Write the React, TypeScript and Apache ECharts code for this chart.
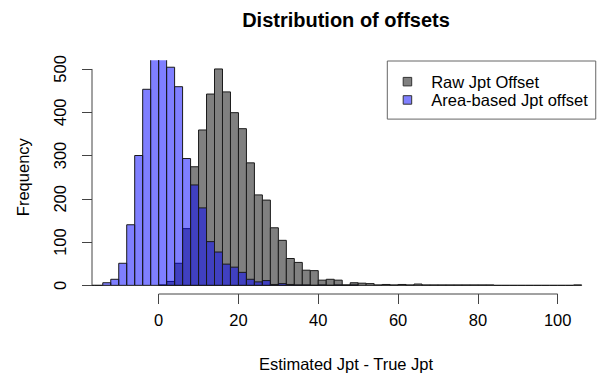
import React, { useEffect, useRef } from "react";
import * as echarts from "echarts";

// ---- data (bin width 2) ----
const binWidth = 2;
const rawStart = 0;
const rawCounts = [
  1, 9, 51, 131, 274, 359, 442, 500, 447, 399, 362, 283, 209, 197, 133, 104,
  62, 53, 35, 34, 12, 14, 12, 1, 6, 5, 4, 1, 2, 1, 2, 1, 3, 1, 1, 1, 1, 1, 1,
  1, 1, 1, 0, 0, 0, 0, 0, 0, 0, 0, 0, 0, 1,
];
const areaStart = -18;
const areaCounts = [
  0, 0, 6, 14, 51, 140, 300, 453, 545, 565, 504, 459, 293, 232, 179, 101, 77,
  49, 42, 30, 14, 8, 11, 2, 4, 2, 1, 1, 0, 1, 0, 1, 0, 1,
];
const xTicks = [0, 20, 40, 60, 80, 100];
const yTicks = [0, 100, 200, 300, 400, 500];
const seriesNames = ["Raw Jpt Offset", "Area-based Jpt offset"];
const titleText = "Distribution of offsets";
const xLabel = "Estimated Jpt - True Jpt";
const yLabel = "Frequency";

const X_MIN = -16.7;
const X_MAX = 110.6;
const Y_MIN = -20;
const Y_MAX = 520;

const FONT = "Liberation Sans, Arial, Helvetica, sans-serif";

function toBins(start: number, counts: number[]) {
  return counts.map((c, i) => [start + i * binWidth, start + (i + 1) * binWidth, c]);
}

function makeRender(fill: string) {
  return (params: any, api: any) => {
    const x0 = api.value(0);
    const x1 = api.value(1);
    const c = api.value(2);
    const p0 = api.coord([x0, 0]);
    const p1 = api.coord([x1, c]);
    return {
      type: "rect",
      shape: { x: p0[0], y: p1[1], width: p1[0] - p0[0], height: p0[1] - p1[1] },
      style: { fill, stroke: "#1a1a1a", lineWidth: 1 },
    };
  };
}

export default function App() {
  const ref = useRef<HTMLDivElement>(null);
  useEffect(() => {
    if (!ref.current) return;
    const chart = echarts.init(ref.current, undefined, { renderer: "svg" });
    const axisLines = [
      [xTicks[0], Y_MIN, xTicks[xTicks.length - 1], Y_MIN],
      [X_MIN, yTicks[0], X_MIN, yTicks[yTicks.length - 1]],
    ];
    chart.setOption({
      animation: false,
      backgroundColor: "#ffffff",
      textStyle: { fontFamily: FONT },
      graphic: [
        {
          type: "text",
          x: 346,
          y: 20,
          style: {
            text: titleText,
            fontFamily: FONT,
            fontWeight: "bold",
            fontSize: 20,
            fill: "#000",
            textAlign: "center",
            textVerticalAlign: "middle",
          },
        },
      ],
      grid: { left: 92, right: 0, top: 60.3, bottom: 82 },
      xAxis: {
        type: "value",
        min: X_MIN,
        max: X_MAX,
        splitLine: { show: false },
        axisLine: { show: false, onZero: false },
        axisTick: {
          show: true,
          customValues: xTicks,
          length: 10,
          lineStyle: { color: "#444", width: 1 },
        },
        axisLabel: {
          customValues: xTicks,
          fontSize: 16.5,
          color: "#000",
          fontFamily: FONT,
          margin: 17,
        },
        name: xLabel,
        nameLocation: "middle",
        nameGap: 61,
        nameTextStyle: { fontSize: 16.5, color: "#000", fontFamily: FONT },
      },
      yAxis: {
        type: "value",
        min: Y_MIN,
        max: Y_MAX,
        splitLine: { show: false },
        axisLine: { show: false, onZero: false },
        axisTick: {
          show: true,
          customValues: yTicks,
          length: 10,
          lineStyle: { color: "#444", width: 1 },
        },
        axisLabel: {
          customValues: yTicks,
          rotate: 90,
          fontSize: 16.5,
          color: "#000",
          fontFamily: FONT,
          margin: 24,
        },
        name: yLabel,
        nameLocation: "middle",
        nameGap: 61,
        nameTextStyle: { fontSize: 16.5, color: "#000", fontFamily: FONT },
      },
      legend: {
        left: 387.3,
        top: 61,
        orient: "vertical",
        icon: "rect",
        itemWidth: 8.5,
        itemHeight: 8.5,
        itemGap: 0,
        padding: [11.5, 8, 10, 15.4],
        borderColor: "#666",
        borderWidth: 1,
        backgroundColor: "#fff",
        selectedMode: false,
        textStyle: {
          fontSize: 16.5,
          color: "#000",
          fontFamily: FONT,
          lineHeight: 18.3,
          padding: [0, 0, 0, 14.5],
        },
        data: [
          { name: seriesNames[0], itemStyle: { color: "#808080", borderColor: "#333", borderWidth: 1 } },
          { name: seriesNames[1], itemStyle: { color: "#8080FF", borderColor: "#333", borderWidth: 1 } },
        ],
      },
      series: [
        {
          name: seriesNames[0],
          type: "custom",
          clip: true,
          itemStyle: { color: "#808080" },
          encode: { x: [0, 1], y: 2 },
          data: toBins(rawStart, rawCounts),
          renderItem: makeRender("#808080"),
        },
        {
          name: seriesNames[1],
          type: "custom",
          clip: true,
          itemStyle: { color: "#8080FF" },
          encode: { x: [0, 1], y: 2 },
          data: toBins(areaStart, areaCounts),
          renderItem: makeRender("rgba(0,0,255,0.5)"),
        },
        {
          name: "axes",
          type: "custom",
          clip: false,
          silent: true,
          encode: { x: [0, 2], y: [1, 3] },
          data: axisLines,
          renderItem: (params: any, api: any) => {
            const a = api.coord([api.value(0), api.value(1)]);
            const b = api.coord([api.value(2), api.value(3)]);
            return {
              type: "line",
              shape: { x1: a[0], y1: a[1], x2: b[0], y2: b[1] },
              style: { stroke: "#444", lineWidth: 1 },
            };
          },
        },
      ],
    });
    return () => chart.dispose();
  }, []);
  return (
    <div
      ref={ref}
      style={{ position: "fixed", left: 0, top: 0, width: 600, height: 377, background: "#fff" }}
    />
  );
}
